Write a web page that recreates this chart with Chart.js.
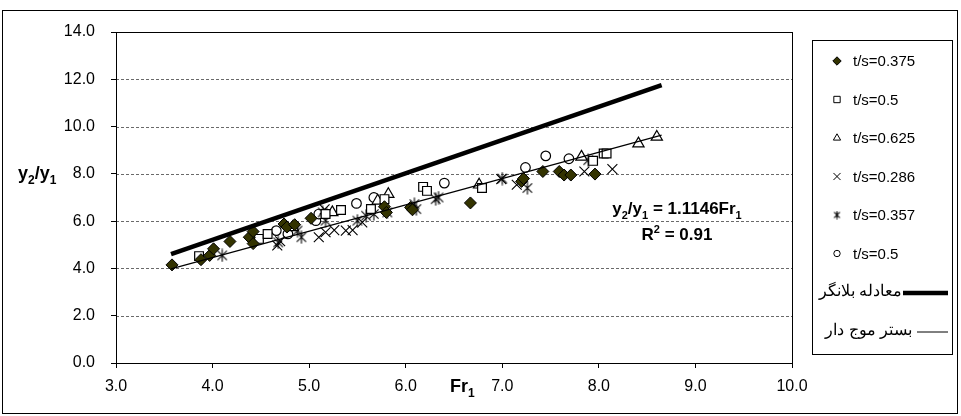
<!DOCTYPE html>
<html><head><meta charset="utf-8">
<script src="https://cdn.jsdelivr.net/npm/chart.js@4"></script>
<style>html,body{margin:0;padding:0;background:#fff}#wrap{width:961px;height:416px;position:relative}canvas{display:block}</style>
</head><body><div id="wrap"><canvas id="c" width="961" height="416"></canvas></div>
<script>
// ---- data ----
const xTicks = [3, 4, 5, 6, 7, 8, 9, 10];
const yTicks = [0, 2, 4, 6, 8, 10, 12, 14];
const legendLabels = ['t/s=0.375', 't/s=0.5', 't/s=0.625', 't/s=0.286', 't/s=0.357', 't/s=0.5', 'معادله بلانگر', 'بستر موج دار'];
const ts0375 = [[3.58,4.15],[3.88,4.37],[3.97,4.55],[4.01,4.83],[4.18,5.14],[4.38,5.32],[4.42,5.56],[4.42,5.05],[4.74,5.88],[4.77,5.75],[4.85,5.85],[5.02,6.12],[5.78,6.61],[5.80,6.37],[6.05,6.58],[6.07,6.48],[6.67,6.77],[7.20,7.68],[7.22,7.80],[7.42,8.10],[7.59,8.10],[7.64,7.95],[7.71,7.95],[7.96,7.99]];
const ts05a = [[3.86,4.52],[4.48,5.25],[4.57,5.46],[5.17,6.30],[5.33,6.47],[5.64,6.51],[5.78,6.93],[6.18,7.45],[6.22,7.28],[6.79,7.40],[7.94,8.55],[8.05,8.86],[8.08,8.86]];
const ts0625 = [[4.83,5.74],[5.24,6.37],[5.71,6.86],[5.82,7.14],[6.76,7.54],[7.82,8.72],[8.41,9.28],[8.60,9.56]];
const ts0286 = [[4.67,4.97],[4.70,5.15],[5.10,5.32],[5.16,6.50],[5.17,5.53],[5.26,5.62],[5.38,5.60],[5.45,5.62],[5.55,5.95],[6.99,7.78],[7.15,7.54],[7.85,8.10],[8.14,8.20]];
const ts0357 = [[4.10,4.55],[4.68,5.10],[4.88,5.60],[4.92,5.32],[5.14,6.37],[5.17,6.02],[5.50,6.02],[5.59,6.23],[5.67,6.30],[5.81,6.37],[6.09,6.72],[6.11,6.51],[6.31,6.93],[6.34,7.00],[7.00,7.80],[7.26,7.40],[7.89,8.58]];
const ts05b = [[4.66,5.60],[4.78,5.46],[5.07,6.02],[5.10,6.30],[5.49,6.75],[5.67,7.00],[6.40,7.61],[7.24,8.27],[7.45,8.76],[7.69,8.64]];
const belanger = [[3.57,4.60],[8.65,11.75]];
const fitLine = [[3.57,3.98],[8.65,9.64]];

const toXY = a => a.map(p => ({x: p[0], y: p[1]}));
const FONT = 'Liberation Sans, Arial, sans-serif';

function makeStar(size) {
  const c = document.createElement('canvas');
  c.width = c.height = size;
  const g = c.getContext('2d');
  g.strokeStyle = '#000'; g.lineWidth = 1.1;
  const m = size / 2, r = size / 2 - 0.5, d = r * 0.72;
  g.beginPath();
  g.moveTo(m - d, m - d); g.lineTo(m + d, m + d);
  g.moveTo(m + d, m - d); g.lineTo(m - d, m + d);
  g.moveTo(m, m - r); g.lineTo(m, m + r);
  g.stroke();
  return c;
}
const starBig = makeStar(14);
const starSmall = makeStar(9);

const markerStyles = [
  {pointStyle: 'rectRot', radius: 6, backgroundColor: '#333300', borderColor: '#000', borderWidth: 1},
  {pointStyle: 'rect', radius: 6.2, backgroundColor: '#fff', borderColor: '#000', borderWidth: 1.2},
  {pointStyle: 'triangle', radius: 6.5, backgroundColor: '#fff', borderColor: '#000', borderWidth: 1.2},
  {pointStyle: 'crossRot', radius: 7, backgroundColor: '#000', borderColor: '#000', borderWidth: 1.1},
  {pointStyle: starBig, radius: 7, backgroundColor: '#000', borderColor: '#000', borderWidth: 1},
  {pointStyle: 'circle', radius: 4.8, backgroundColor: '#fff', borderColor: '#000', borderWidth: 1.2}
];
const legendMarkers = [
  {pointStyle: 'rectRot', radius: 4.2, fill: '#333300'},
  {pointStyle: 'rect', radius: 4.5, fill: '#fff'},
  {pointStyle: 'triangle', radius: 4.2, fill: '#fff'},
  {pointStyle: 'crossRot', radius: 5, fill: '#000'},
  {pointStyle: starSmall, radius: 4.5, fill: '#000'},
  {pointStyle: 'circle', radius: 3.2, fill: '#fff'}
];
const seriesData = [ts0375, ts05a, ts0625, ts0286, ts0357, ts05b];

const datasets = [
  {label: legendLabels[6], data: toXY(belanger), showLine: true, borderColor: '#000', borderWidth: 4.5, pointRadius: 0, fill: false},
  {label: legendLabels[7], data: toXY(fitLine), showLine: true, borderColor: '#000', borderWidth: 1.2, pointRadius: 0, fill: false}
];
seriesData.forEach((d, i) => {
  const m = markerStyles[i];
  datasets.push({label: legendLabels[i], data: toXY(d), showLine: false,
    pointStyle: m.pointStyle, pointRadius: m.radius, pointBackgroundColor: m.backgroundColor,
    pointBorderColor: m.borderColor, pointBorderWidth: m.borderWidth, pointHoverRadius: m.radius});
});

function drawRich(ctx, parts, x, y, align, size) {
  // parts: [text, mode] mode: 0 normal, 1 sub, 2 sup
  const big = 'bold ' + size + 'px ' + FONT, small = 'bold ' + Math.round(size * 0.66) + 'px ' + FONT;
  let w = 0;
  parts.forEach(p => { ctx.font = p[1] ? small : big; w += ctx.measureText(p[0]).width; });
  let cx = align === 'right' ? x - w : (align === 'center' ? x - w / 2 : x);
  ctx.textBaseline = 'alphabetic'; ctx.textAlign = 'left'; ctx.fillStyle = '#000';
  parts.forEach(p => {
    ctx.font = p[1] ? small : big;
    const dy = p[1] === 1 ? size * 0.27 : (p[1] === 2 ? -size * 0.4 : 0);
    ctx.fillText(p[0], cx, y + dy);
    cx += ctx.measureText(p[0]).width;
  });
}

const decor = {
  id: 'decor',
  beforeDatasetsDraw(chart) {
    const {ctx, chartArea: a, scales: {y}} = chart;
    ctx.save();
    ctx.strokeStyle = '#6a6a6a'; ctx.lineWidth = 1; ctx.setLineDash([3, 2]);
    yTicks.forEach(v => {
      if (v === 0 || v === 14) return;
      const py = Math.round(y.getPixelForValue(v)) + 0.5;
      ctx.beginPath(); ctx.moveTo(a.left, py); ctx.lineTo(a.right, py); ctx.stroke();
    });
    ctx.setLineDash([]);
    ctx.strokeStyle = '#000';
    ctx.strokeRect(Math.round(a.left) + 0.5, Math.round(a.top) + 0.5, Math.round(a.right - a.left), Math.round(a.bottom - a.top));
    ctx.restore();
  },
  afterDraw(chart) {
    const {ctx} = chart;
    ctx.save();
    // outer frame
    ctx.strokeStyle = '#000'; ctx.lineWidth = 1;
    ctx.strokeRect(2.5, 10.5, 955, 403);
    // axis titles
    drawRich(ctx, [['y', 0], ['2', 1], ['/y', 0], ['1', 1]], 18, 179, 'left', 18);
    drawRich(ctx, [['Fr', 0], ['1', 1]], 450, 392, 'left', 18);
    // annotation
    drawRich(ctx, [['y', 0], ['2', 1], ['/y', 0], ['1', 1], [' = 1.1146Fr', 0], ['1', 1]], 677, 214, 'center', 17);
    drawRich(ctx, [['R', 0], ['2', 2], [' = 0.91', 0]], 677, 240, 'center', 17);
    // legend
    const lx = 812, ly = 40, lw = 140, lh = 314;
    ctx.fillStyle = '#fff';
    ctx.fillRect(lx, ly, lw, lh);
    ctx.strokeStyle = '#000';
    ctx.strokeRect(lx + 0.5, ly + 0.5, lw, lh);
    const rowY = i => 61 + i * 38.5;
    ctx.font = '15px ' + FONT; ctx.textBaseline = 'middle'; ctx.fillStyle = '#000';
    legendMarkers.forEach((m, i) => {
      ctx.save();
      ctx.fillStyle = m.fill; ctx.strokeStyle = '#000'; ctx.lineWidth = 1;
      Chart.helpers.drawPoint(ctx, {pointStyle: m.pointStyle, radius: m.radius, rotation: 0, borderWidth: 1}, 837, rowY(i));
      ctx.restore();
      ctx.fillStyle = '#000'; ctx.textAlign = 'left'; ctx.direction = 'ltr';
      ctx.fillText(legendLabels[i], 853, rowY(i) + 1);
    });
    // persian rows
    ctx.font = '16px ' + FONT;
    ctx.textAlign = 'right'; ctx.direction = 'rtl';
    ctx.fillText(legendLabels[6], 902, rowY(6));
    ctx.fillText(legendLabels[7], 912, rowY(7));
    ctx.direction = 'ltr';
    ctx.lineWidth = 4.5; ctx.beginPath(); ctx.moveTo(903, rowY(6) + 1); ctx.lineTo(948, rowY(6) + 1); ctx.stroke();
    ctx.lineWidth = 1; ctx.beginPath(); ctx.moveTo(917, rowY(7) + 1.5); ctx.lineTo(948, rowY(7) + 1.5); ctx.stroke();
    ctx.restore();
  }
};

new Chart(document.getElementById('c'), {
  type: 'scatter',
  data: {datasets},
  options: {
    responsive: false, animation: false, devicePixelRatio: 1,
    layout: {padding: {left: 0, right: 169, top: 32, bottom: 0}},
    plugins: {legend: {display: false}, tooltip: {enabled: false}},
    elements: {line: {tension: 0}},
    scales: {
      x: {
        type: 'linear', min: 3, max: 10,
        afterBuildTicks: s => { s.ticks = xTicks.map(v => ({value: v})); },
        afterFit: s => { s.height = 53; },
        ticks: {callback: v => Number(v).toFixed(1), color: '#000', font: {family: FONT, size: 16}, padding: 9, maxRotation: 0, autoSkip: false},
        grid: {drawOnChartArea: false, drawTicks: true, tickLength: 5, color: '#000'},
        border: {display: true, color: '#000', width: 1}
      },
      y: {
        type: 'linear', min: 0, max: 14,
        afterBuildTicks: s => { s.ticks = yTicks.map(v => ({value: v})); },
        afterFit: s => { s.width = 116; },
        ticks: {callback: v => Number(v).toFixed(1), color: '#000', font: {family: FONT, size: 16}, padding: 16, autoSkip: false},
        grid: {drawOnChartArea: false, drawTicks: true, tickLength: 5, color: '#000'},
        border: {display: true, color: '#000', width: 1}
      }
    }
  },
  plugins: [decor]
});
</script>
</body></html>
